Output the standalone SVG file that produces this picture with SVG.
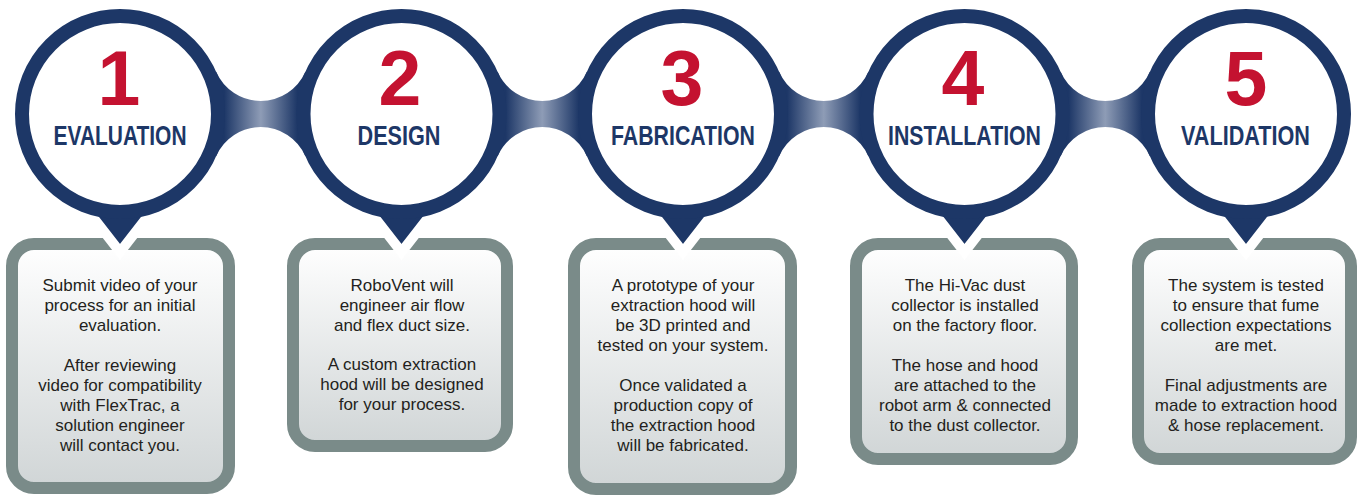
<svg xmlns="http://www.w3.org/2000/svg" width="1358" height="496" viewBox="0 0 1358 496">
<style>
.box{stroke:#7a8b89;stroke-width:12;fill:url(#boxg)}
.ptr{fill:#1d3767;stroke:#ffffff;stroke-width:10;stroke-linejoin:miter}
.ring{fill:#ffffff;stroke:#1d3767;stroke-width:14}
.num{font-family:"Liberation Sans",Arial,sans-serif;font-weight:bold;font-size:77px;fill:#c41230;text-anchor:middle}
.ttl{font-family:"Liberation Sans Narrow","Liberation Sans",Arial,sans-serif;font-weight:bold;font-size:28px;fill:#1d3767;text-anchor:middle}
.body{font-family:"Liberation Sans",Arial,sans-serif;font-size:17px;fill:#231f20;text-anchor:middle}
</style>
<defs>
<linearGradient id="boxg" x1="0" y1="0" x2="0" y2="1">
<stop offset="0" stop-color="#ffffff"/>
<stop offset="1" stop-color="#d0d5d6"/>
</linearGradient>
<linearGradient id="brg" x1="0" y1="0" x2="1" y2="0">
<stop offset="0" stop-color="#1d3767"/>
<stop offset="0.37" stop-color="#1d3767"/>
<stop offset="0.5" stop-color="#8e9cb6"/>
<stop offset="0.63" stop-color="#1d3767"/>
<stop offset="1" stop-color="#1d3767"/>
</linearGradient>
<path id="bridge" d="M0,114 L96.17,71.86 A48.67,48.67 0 0 0 185.33,71.86 L281.5,114 L185.33,156.14 A48.67,48.67 0 0 0 96.17,156.14 Z" fill="url(#brg)"/>
</defs>

<g id="boxes">
<rect class="box" x="12" y="244" width="217" height="244" rx="22"/>
<rect class="box" x="293" y="244" width="214" height="202" rx="22"/>
<rect class="box" x="574" y="244" width="217" height="245" rx="22"/>
<rect class="box" x="856" y="244" width="216" height="215" rx="22"/>
<rect class="box" x="1138" y="244" width="213" height="215" rx="22"/>
</g>

<g id="pointers">
<polygon class="ptr" points="85,207 155,207 120,252"/>
<polygon class="ptr" points="366.5,207 436.5,207 401.5,252"/>
<polygon class="ptr" points="648,207 718,207 683,252"/>
<polygon class="ptr" points="929.5,207 999.5,207 964.5,252"/>
<polygon class="ptr" points="1211,207 1281,207 1246,252"/>
</g>

<g id="connectors">
<use href="#bridge" transform="translate(120,0)"/>
<use href="#bridge" transform="translate(401.5,0)"/>
<use href="#bridge" transform="translate(683,0)"/>
<use href="#bridge" transform="translate(964.5,0)"/>
</g>

<g id="step1">
<circle class="ring" cx="120" cy="114" r="98"/>
<text class="num" x="119" y="105">1</text>
<text class="ttl" x="120" y="145" textLength="133" lengthAdjust="spacingAndGlyphs">EVALUATION</text>
<text class="body" x="120" y="291">Submit video of your</text>
<text class="body" x="120" y="311">process for an initial</text>
<text class="body" x="120" y="331">evaluation.</text>
<text class="body" x="120" y="371">After reviewing</text>
<text class="body" x="120" y="391">video for compatibility</text>
<text class="body" x="120" y="411">with FlexTrac, a</text>
<text class="body" x="120" y="431">solution engineer</text>
<text class="body" x="120" y="451">will contact you.</text>
</g>

<g id="step2">
<circle class="ring" cx="401.5" cy="114" r="98"/>
<text class="num" x="400" y="105">2</text>
<text class="ttl" x="399" y="145" textLength="83" lengthAdjust="spacingAndGlyphs">DESIGN</text>
<text class="body" x="402" y="291">RoboVent will</text>
<text class="body" x="402" y="311">engineer air flow</text>
<text class="body" x="402" y="331">and flex duct size.</text>
<text class="body" x="402" y="370">A custom extraction</text>
<text class="body" x="402" y="390">hood will be designed</text>
<text class="body" x="402" y="410">for your process.</text>
</g>

<g id="step3">
<circle class="ring" cx="683" cy="114" r="98"/>
<text class="num" x="682" y="105">3</text>
<text class="ttl" x="683" y="145" textLength="144" lengthAdjust="spacingAndGlyphs">FABRICATION</text>
<text class="body" x="683" y="291">A prototype of your</text>
<text class="body" x="683" y="311">extraction hood will</text>
<text class="body" x="683" y="331">be 3D printed and</text>
<text class="body" x="683" y="351">tested on your system.</text>
<text class="body" x="683" y="391">Once validated a</text>
<text class="body" x="683" y="411">production copy of</text>
<text class="body" x="683" y="431">the extraction hood</text>
<text class="body" x="683" y="451">will be fabricated.</text>
</g>

<g id="step4">
<circle class="ring" cx="964.5" cy="114" r="98"/>
<text class="num" x="963" y="105">4</text>
<text class="ttl" x="964.5" y="145" textLength="153" lengthAdjust="spacingAndGlyphs">INSTALLATION</text>
<text class="body" x="965" y="291">The Hi-Vac dust</text>
<text class="body" x="965" y="311">collector is installed</text>
<text class="body" x="965" y="331">on the factory floor.</text>
<text class="body" x="965" y="371">The hose and hood</text>
<text class="body" x="965" y="391">are attached to the</text>
<text class="body" x="965" y="411">robot arm &amp; connected</text>
<text class="body" x="965" y="431">to the dust collector.</text>
</g>

<g id="step5">
<circle class="ring" cx="1246" cy="114" r="98"/>
<text class="num" x="1246" y="105">5</text>
<text class="ttl" x="1245.5" y="145" textLength="129" lengthAdjust="spacingAndGlyphs">VALIDATION</text>
<text class="body" x="1246" y="291">The system is tested</text>
<text class="body" x="1246" y="311">to ensure that fume</text>
<text class="body" x="1246" y="331">collection expectations</text>
<text class="body" x="1246" y="351">are met.</text>
<text class="body" x="1246" y="391">Final adjustments are</text>
<text class="body" x="1246" y="411">made to extraction hood</text>
<text class="body" x="1246" y="431">&amp; hose replacement.</text>
</g>
</svg>
